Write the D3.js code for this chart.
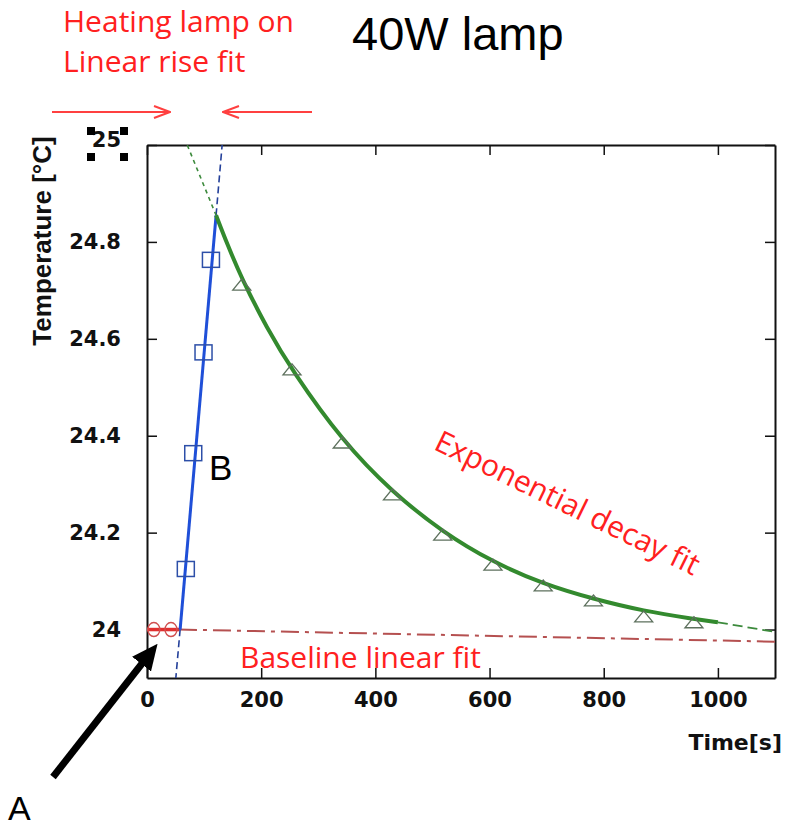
<!DOCTYPE html>
<html>
<head>
<meta charset="utf-8">
<script src="https://cdn.jsdelivr.net/npm/d3@7"></script>
<style>
	body { margin: 0; background: #fff; }
	svg { display: block; }
</style>
</head>
<body>
<script>
// measured points (time in s, temperature in °C)
const circleTimes = [12, 42];
const circleTemps = [24.0, 24.0];

const squareTimes = [68, 81, 99, 112];
const squareTemps = [24.125, 24.364, 24.572, 24.763];

const triangleTimes = [166, 254, 342, 430, 518, 606, 694, 782, 870, 958];
const triangleTemps = [24.711, 24.536, 24.385, 24.278, 24.195, 24.133, 24.09, 24.059, 24.026, 24.014];

// fits
const baseFitTimes = [0, 56];
const baseFitTemps = [24.0, 24.0];
const baseExtTimes = [56, 1100];
const baseExtTemps = [24.0, 23.975];

const riseFitTimes = [58, 121];
const riseFitTemps = [24.0, 24.855];
const riseExtLowTimes = [40, 58];
const riseExtLowTemps = [23.76, 24.0];
const riseExtHighTimes = [121, 136];
const riseExtHighTemps = [24.855, 25.06];

const decayFitTimes = [121, 140, 166, 210, 254, 342, 430, 518, 606, 694, 782, 870, 958, 1000];
const decayFitTemps = [24.855, 24.797, 24.724, 24.622, 24.535, 24.389, 24.283, 24.201, 24.139, 24.094, 24.063, 24.038, 24.022, 24.015];
const decayExtLowTimes = [60, 121];
const decayExtLowTemps = [25.03, 24.855];
const decayExtHighTimes = [1000, 1100];
const decayExtHighTemps = [24.015, 23.995];

const xTicks = [0, 200, 400, 600, 800, 1000];
const xTickLabels = ["0", "200", "400", "600", "800", "1000"];
const yTicks = [24, 24.2, 24.4, 24.6, 24.8, 25];
const yTickLabels = ["24", "24.2", "24.4", "24.6", "24.8", "25"];

const svgWidth = 786;
const svgHeight = 829;
const plot = { left: 147, right: 775, top: 145, bottom: 678 };

const svg = d3
	.select("body")
	.append("svg")
	.attr("width", svgWidth)
	.attr("height", svgHeight);

const defs = svg.append("defs");
defs
	.append("clipPath")
	.attr("id", "plotClip")
	.append("rect")
	.attr("x", plot.left)
	.attr("y", plot.top)
	.attr("width", plot.right - plot.left)
	.attr("height", plot.bottom - plot.top);

const xScale = d3.scaleLinear().domain([0, 1100]).range([plot.left, plot.right]);
const yScale = d3.scaleLinear().domain([23.9, 25.0]).range([plot.bottom, plot.top]);

const tickFont = "'DejaVu Sans', sans-serif";

// axes, ticks pointing inwards on all four sides
const axesLayer = svg.append("g").attr("class", "axes");

axesLayer
	.append("g")
	.attr("transform", `translate(0 ${plot.bottom})`)
	.call(
		d3.axisBottom(xScale)
			.tickValues(xTicks)
			.tickFormat((d, i) => xTickLabels[i])
			.tickSizeInner(-10)
			.tickSizeOuter(0)
			.tickPadding(14)
	);

const leftAxis = axesLayer
	.append("g")
	.attr("transform", `translate(${plot.left} 0)`)
	.call(
		d3.axisLeft(yScale)
			.tickValues(yTicks)
			.tickFormat((d, i) => yTickLabels[i])
			.tickSizeInner(-10)
			.tickSizeOuter(0)
			.tickPadding(26)
	);

axesLayer
	.append("g")
	.attr("transform", `translate(0 ${plot.top})`)
	.call(d3.axisTop(xScale).tickValues(xTicks).tickFormat("").tickSizeInner(-10).tickSizeOuter(0));

axesLayer
	.append("g")
	.attr("transform", `translate(${plot.right} 0)`)
	.call(d3.axisRight(yScale).tickValues(yTicks).tickFormat("").tickSizeInner(-10).tickSizeOuter(0));

axesLayer.selectAll(".domain").attr("stroke", "#111").attr("stroke-width", 2);
axesLayer.selectAll(".tick line").attr("stroke", "#111").attr("stroke-width", 1.5);
axesLayer
	.selectAll(".tick text")
	.attr("font-family", tickFont)
	.attr("font-weight", "bold")
	.attr("font-size", 21)
	.attr("fill", "#111");

// the top label "25" sits a little high
leftAxis
	.selectAll(".tick text")
	.filter((d) => d === 25)
	.attr("y", -5);

// selection handles around the "25" label
const handles = [[87, 127], [120, 127], [87, 153], [120, 153]];
svg
	.append("g")
	.selectAll("rect")
	.data(handles)
	.join("rect")
	.attr("x", (d) => d[0])
	.attr("y", (d) => d[1])
	.attr("width", 8)
	.attr("height", 8)
	.attr("fill", "#000");

// axis titles
svg
	.append("text")
	.attr("transform", "translate(51 241) rotate(-90)")
	.attr("text-anchor", "middle")
	.attr("font-family", "'Liberation Sans', Arial, sans-serif")
	.attr("font-weight", "bold")
	.attr("font-size", 26)
	.attr("fill", "#111")
	.text("Temperature [°C]");

svg
	.append("text")
	.attr("x", 782)
	.attr("y", 750)
	.attr("text-anchor", "end")
	.attr("font-family", tickFont)
	.attr("font-weight", "bold")
	.attr("font-size", 22)
	.attr("fill", "#111")
	.text("Time[s]");

// fit lines
const line = d3
	.line()
	.x((d) => xScale(d[0]))
	.y((d) => yScale(d[1]));
const curve = d3
	.line()
	.curve(d3.curveBasis)
	.x((d) => xScale(d[0]))
	.y((d) => yScale(d[1]));

const fitsLayer = svg.append("g").attr("clip-path", "url(#plotClip)");

const fits = [
	{ times: baseExtTimes, temps: baseExtTemps, color: "#b55050", width: 2, dash: "18,6,4,6", gen: line },
	{ times: baseFitTimes, temps: baseFitTemps, color: "#e03030", width: 3.5, dash: null, gen: line },
	{ times: riseExtLowTimes, temps: riseExtLowTemps, color: "#24409a", width: 1.6, dash: "7,4", gen: line },
	{ times: riseExtHighTimes, temps: riseExtHighTemps, color: "#24409a", width: 1.6, dash: "7,4", gen: line },
	{ times: decayExtLowTimes, temps: decayExtLowTemps, color: "#3c8a3c", width: 1.6, dash: "4,4", gen: line },
	{ times: decayExtHighTimes, temps: decayExtHighTemps, color: "#3c8a3c", width: 1.8, dash: "10,5", gen: line },
	{ times: riseFitTimes, temps: riseFitTemps, color: "#1f4fd8", width: 3, dash: null, gen: line },
	{ times: decayFitTimes, temps: decayFitTemps, color: "#338a2e", width: 4, dash: null, gen: curve },
];

fits.forEach((f) => {
	fitsLayer
		.append("path")
		.attr("d", f.gen(d3.zip(f.times, f.temps)))
		.attr("fill", "none")
		.attr("stroke", f.color)
		.attr("stroke-width", f.width)
		.attr("stroke-dasharray", f.dash);
});

// markers
const markersLayer = svg.append("g");

markersLayer
	.selectAll("ellipse")
	.data(d3.zip(circleTimes, circleTemps))
	.join("ellipse")
	.attr("cx", (d) => xScale(d[0]))
	.attr("cy", (d) => yScale(d[1]))
	.attr("rx", 6)
	.attr("ry", 7)
	.attr("fill", "none")
	.attr("stroke", "#d05050")
	.attr("stroke-width", 1.4);

markersLayer
	.selectAll("rect")
	.data(d3.zip(squareTimes, squareTemps))
	.join("rect")
	.attr("x", (d) => xScale(d[0]) - 8.5)
	.attr("y", (d) => yScale(d[1]) - 7.5)
	.attr("width", 17)
	.attr("height", 15)
	.attr("fill", "none")
	.attr("stroke", "#2d4fa8")
	.attr("stroke-width", 1.5);

markersLayer
	.selectAll("path")
	.data(d3.zip(triangleTimes, triangleTemps))
	.join("path")
	.attr("transform", (d) => `translate(${xScale(d[0])} ${yScale(d[1])})`)
	.attr("d", "M0,-6L9,5L-9,5Z")
	.attr("fill", "none")
	.attr("stroke", "#5d705d")
	.attr("stroke-width", 1.3);

// annotations
const red = "#ff2020";
const noteFont = "'Open Sans', sans-serif";

svg
	.append("text")
	.attr("x", 352)
	.attr("y", 50)
	.attr("font-family", "'Liberation Sans', Arial, sans-serif")
	.attr("font-size", 47)
	.attr("fill", "#000")
	.text("40W lamp");

const redNotes = [
	{ text: "Heating lamp on", x: 63, y: 32 },
	{ text: "Linear rise fit", x: 63, y: 72 },
	{ text: "Baseline linear fit", x: 240, y: 668 },
];
svg
	.append("g")
	.selectAll("text")
	.data(redNotes)
	.join("text")
	.attr("x", (d) => d.x)
	.attr("y", (d) => d.y)
	.attr("font-family", noteFont)
	.attr("font-size", 30)
	.attr("fill", red)
	.text((d) => d.text);

svg
	.append("text")
	.attr("transform", "translate(568 502) rotate(26)")
	.attr("text-anchor", "middle")
	.attr("dominant-baseline", "central")
	.attr("font-family", noteFont)
	.attr("font-size", 30)
	.attr("fill", red)
	.text("Exponential decay fit");

const labelFont = "'Liberation Sans', Arial, sans-serif";
svg
	.append("text")
	.attr("x", 209)
	.attr("y", 480)
	.attr("font-family", labelFont)
	.attr("font-size", 35)
	.attr("fill", "#000")
	.text("B");

svg
	.append("text")
	.attr("x", 8)
	.attr("y", 820)
	.attr("font-family", labelFont)
	.attr("font-size", 34)
	.attr("fill", "#000")
	.text("A");

// red open arrows marking the heating interval
defs
	.append("marker")
	.attr("id", "openHead")
	.attr("viewBox", "0 0 18 14")
	.attr("refX", 17)
	.attr("refY", 7)
	.attr("markerWidth", 18)
	.attr("markerHeight", 14)
	.attr("markerUnits", "userSpaceOnUse")
	.attr("orient", "auto")
	.append("path")
	.attr("d", "M1,1L17,7L1,13")
	.attr("fill", "none")
	.attr("stroke", "#ff4040")
	.attr("stroke-width", 2);

const redArrows = [
	[52, 112, 170, 112],
	[312, 112, 223, 112],
];
svg
	.append("g")
	.selectAll("line")
	.data(redArrows)
	.join("line")
	.attr("x1", (d) => d[0])
	.attr("y1", (d) => d[1])
	.attr("x2", (d) => d[2])
	.attr("y2", (d) => d[3])
	.attr("stroke", "#ff4040")
	.attr("stroke-width", 2)
	.attr("marker-end", "url(#openHead)");

// thick black arrow pointing at A
defs
	.append("marker")
	.attr("id", "solidHead")
	.attr("viewBox", "0 0 26 24")
	.attr("refX", 4)
	.attr("refY", 12)
	.attr("markerWidth", 26)
	.attr("markerHeight", 24)
	.attr("markerUnits", "userSpaceOnUse")
	.attr("orient", "auto")
	.append("path")
	.attr("d", "M0,0L26,12L0,24Z")
	.attr("fill", "#000");

svg
	.append("line")
	.attr("x1", 53)
	.attr("y1", 777)
	.attr("x2", 144)
	.attr("y2", 661)
	.attr("stroke", "#000")
	.attr("stroke-width", 7)
	.attr("marker-end", "url(#solidHead)");
</script>
</body>
</html>
